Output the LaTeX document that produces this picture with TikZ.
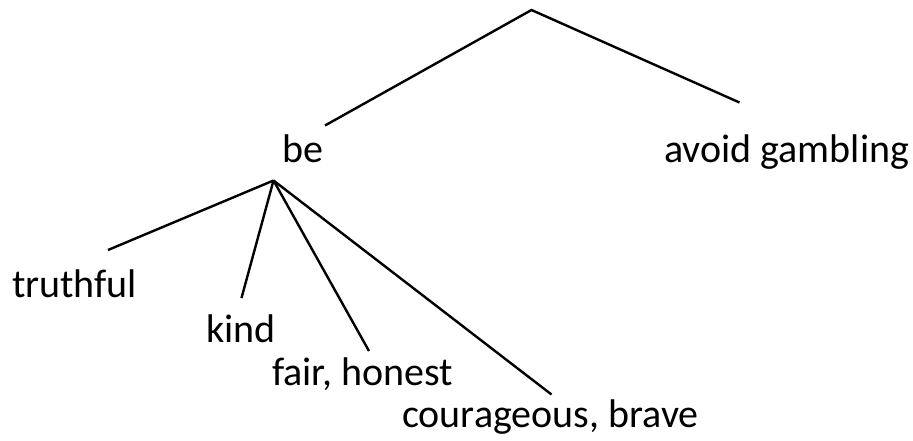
\documentclass[tikz,border=0pt]{standalone}
\usepackage{fontspec}
\setmainfont{Carlito}
\begin{document}
\begin{tikzpicture}[x=1pt,y=-1pt,
  lbl/.style={anchor=base west,inner sep=0pt,font=\fontsize{40}{44}\selectfont},
  edge/.style={line width=2.4pt,line cap=butt}]
\useasboundingbox (0,0) rectangle (913,440);
\coordinate (top) at (531.5,10);
\coordinate (beE) at (325,125.5);
\coordinate (avE) at (739.5,102.5);
\coordinate (br) at (273.5,180.5);
\coordinate (trE) at (108,250);
\coordinate (kiE) at (241.5,298);
\coordinate (faE) at (369,351);
\coordinate (coE) at (551.5,394.5);
\node[lbl] (be) at (282,162) {be};
\node[lbl] (av) at (664,162) {avoid gambling};
\node[lbl] (tr) at (12,297) {truthful};
\node[lbl] (ki) at (206,342) {kind};
\node[lbl] (fa) at (272,385) {fair, honest};
\node[lbl] (co) at (402,427) {courageous, brave};
\draw[edge] (beE) -- (top) -- (avE);
\draw[edge] (br) -- (trE);
\draw[edge] (br) -- (kiE);
\draw[edge] (br) -- (faE);
\draw[edge] (br) -- (coE);
\end{tikzpicture}
\end{document}
